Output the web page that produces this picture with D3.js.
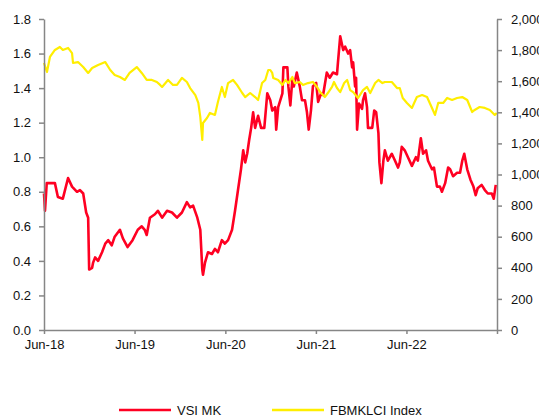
<!DOCTYPE html>
<html lang="en">
<head>
<meta charset="UTF-8">
<title>VSI MK vs FBMKLCI</title>
<style>
  body { margin: 0; background: #fff; }
  svg { display: block; font-family: "Liberation Sans", Arial, sans-serif; }
</style>
</head>
<body>
<div id="chart"></div>
<script src="https://cdn.jsdelivr.net/npm/d3@7"></script>
<script>
const width = 539, height = 416;

// VSI MK share price (RM), left axis
const vsiDates = ["2018-06-01","2018-06-05","2018-06-12","2018-06-25","2018-07-15","2018-07-27","2018-08-16","2018-09-06","2018-09-22","2018-10-12","2018-10-24","2018-11-06","2018-11-18","2018-11-26","2018-11-30","2018-12-12","2018-12-16","2018-12-24",
  "2019-01-05","2019-01-21","2019-02-03","2019-02-15","2019-03-01","2019-03-13","2019-04-03","2019-04-15","2019-05-04","2019-05-24","2019-06-14","2019-06-30","2019-07-12","2019-07-20","2019-08-02","2019-08-22","2019-09-03","2019-09-20","2019-10-10","2019-10-30","2019-11-19","2019-12-09","2019-12-29",
  "2020-01-11","2020-01-23","2020-02-09","2020-02-21","2020-02-29","2020-03-03","2020-03-11","2020-03-23","2020-04-08","2020-04-20","2020-05-02","2020-05-18","2020-05-30","2020-06-12","2020-06-28","2020-07-10","2020-07-22","2020-08-03","2020-08-12","2020-08-20","2020-08-28","2020-09-05","2020-09-13","2020-09-21","2020-09-29","2020-10-11","2020-10-23","2020-11-05","2020-11-17","2020-11-29","2020-12-07","2020-12-19","2020-12-23","2020-12-31",
  "2021-01-17","2021-01-21","2021-02-06","2021-02-10","2021-02-18","2021-02-26","2021-03-04","2021-03-16","2021-03-28","2021-04-06","2021-04-18","2021-04-26","2021-05-03","2021-05-12","2021-05-20","2021-06-02","2021-06-10","2021-06-22","2021-06-30","2021-07-15","2021-07-27","2021-08-09","2021-08-25","2021-08-29","2021-09-07","2021-09-19","2021-09-27","2021-10-09","2021-10-17","2021-10-25","2021-10-29","2021-11-06","2021-11-10","2021-11-14","2021-11-22","2021-12-04","2021-12-08","2021-12-16","2021-12-24","2021-12-28",
  "2022-01-14","2022-01-22","2022-01-30","2022-02-08","2022-02-12","2022-02-20","2022-02-28","2022-03-06","2022-03-18","2022-04-03","2022-04-16","2022-04-28","2022-05-05","2022-05-13","2022-05-25","2022-06-07","2022-06-23","2022-07-09","2022-07-17","2022-07-29","2022-08-07","2022-08-19","2022-08-27","2022-09-12","2022-09-20","2022-10-02","2022-10-14","2022-10-22","2022-11-04","2022-11-16","2022-11-24","2022-12-06","2022-12-22",
  "2023-01-03","2023-01-12","2023-01-20","2023-02-01","2023-02-14","2023-02-26","2023-03-07","2023-03-15","2023-03-31","2023-04-13","2023-04-25","2023-05-11","2023-05-19","2023-05-27"];
const vsiValues = [0.79,0.69,0.85,0.85,0.85,0.77,0.76,0.88,0.83,0.80,0.81,0.79,0.68,0.65,0.35,0.36,0.39,0.42,
  0.40,0.45,0.50,0.52,0.49,0.54,0.58,0.53,0.48,0.52,0.58,0.60,0.58,0.55,0.65,0.67,0.69,0.65,0.69,0.68,0.65,0.68,0.74,
  0.71,0.72,0.65,0.58,0.35,0.32,0.39,0.45,0.44,0.47,0.45,0.52,0.50,0.52,0.58,0.69,0.81,0.93,1.04,0.97,1.02,1.10,1.17,1.26,1.17,1.24,1.17,1.17,1.37,1.33,1.27,1.29,1.16,1.29,
  1.37,1.52,1.52,1.41,1.30,1.45,1.41,1.49,1.41,1.33,1.33,1.26,1.16,1.27,1.41,1.43,1.32,1.37,1.36,1.49,1.46,1.49,1.48,1.55,1.70,1.62,1.64,1.60,1.62,1.52,1.55,1.41,1.46,1.16,1.31,1.28,1.33,1.37,1.29,1.17,
  1.17,1.27,1.26,1.14,0.97,0.85,0.98,1.04,0.98,1.02,0.98,0.94,0.97,1.06,1.04,1.00,0.95,1.00,0.98,1.11,1.02,1.04,0.98,0.93,0.94,0.83,0.83,0.80,0.85,0.94,0.93,0.89,0.91,
  0.91,0.98,1.02,0.93,0.87,0.83,0.78,0.82,0.84,0.81,0.79,0.79,0.76,0.84];

// FBMKLCI Index, right axis
const klciDates = ["2018-06-01","2018-06-13","2018-06-25","2018-07-15","2018-08-04","2018-08-16","2018-09-06","2018-09-22","2018-09-26","2018-10-16","2018-11-06","2018-11-26","2018-12-12",
  "2019-01-05","2019-02-03","2019-02-23","2019-03-13","2019-04-03","2019-04-23","2019-05-12","2019-06-10","2019-06-30","2019-07-20","2019-08-10","2019-08-30","2019-09-12","2019-09-20","2019-10-14","2019-11-03","2019-11-19","2019-12-09","2019-12-29",
  "2020-01-11","2020-02-01","2020-02-13","2020-02-21","2020-02-29","2020-03-03","2020-03-19","2020-03-31","2020-04-20","2020-05-02","2020-05-18","2020-05-30","2020-06-12","2020-07-02","2020-07-18","2020-08-08","2020-08-20","2020-09-09","2020-09-29","2020-10-11","2020-10-27","2020-11-09","2020-11-21","2020-11-29","2020-12-07","2020-12-11","2020-12-31",
  "2021-01-17","2021-01-29","2021-02-10","2021-02-26","2021-03-08","2021-03-28","2021-04-10","2021-04-30","2021-05-20","2021-06-06","2021-06-18","2021-07-07","2021-07-19","2021-08-05","2021-08-13","2021-08-25","2021-09-07","2021-09-23","2021-10-05","2021-10-17","2021-10-29","2021-11-18","2021-12-08","2021-12-24",
  "2022-01-06","2022-01-26","2022-02-08","2022-02-24","2022-03-06","2022-04-03","2022-04-24","2022-05-05","2022-05-17","2022-06-03","2022-06-23","2022-07-13","2022-08-03","2022-08-23","2022-09-12","2022-09-24","2022-10-07","2022-10-27","2022-11-12","2022-12-02","2022-12-22",
  "2023-01-12","2023-02-01","2023-02-21","2023-03-03","2023-03-23","2023-04-13","2023-05-03","2023-05-23","2023-05-31"];
const klciValues = [1717,1659,1756,1801,1820,1801,1814,1781,1717,1723,1691,1653,1685,
  1704,1723,1672,1640,1627,1608,1653,1691,1653,1608,1608,1595,1576,1563,1608,1576,1576,1621,1595,
  1556,1511,1460,1370,1222,1331,1363,1396,1383,1466,1563,1498,1588,1608,1576,1524,1498,1524,1498,1479,1588,1608,1672,1672,1653,1621,1608,
  1576,1608,1588,1627,1588,1595,1576,1588,1595,1563,1530,1498,1524,1563,1595,1556,1530,1588,1608,1543,1530,1492,1543,1563,
  1524,1588,1608,1588,1595,1595,1556,1556,1492,1460,1428,1498,1511,1498,1428,1383,1460,1460,1492,1479,1492,
  1498,1479,1402,1415,1434,1428,1415,1383,1396];

// the last tick (Jun-23) is drawn without a label, as in the source
const xTicks = ["2018-06-01","2019-06-01","2020-06-01","2021-06-01","2022-06-01","2023-06-01"];
const xTickLabels = ["Jun-18","Jun-19","Jun-20","Jun-21","Jun-22",""];
const leftTicks = [0, 0.2, 0.4, 0.6, 0.8, 1.0, 1.2, 1.4, 1.6, 1.8];
const rightTicks = [0, 200, 400, 600, 800, 1000, 1200, 1400, 1600, 1800, 2000];
const seriesNames = ["VSI MK", "FBMKLCI Index"];

const parse = d3.timeParse("%Y-%m-%d");
const vsi = vsiDates.map((d, i) => ({date: parse(d), value: vsiValues[i]}));
const klci = klciDates.map((d, i) => ({date: parse(d), value: klciValues[i]}));

const plotLeft = 44, plotRight = 497, plotTop = 19, plotBottom = 330;
const axisColor = "#868686";

const x = d3.scaleTime()
    .domain([parse(xTicks[0]), parse(xTicks[xTicks.length - 1])])
    .range([plotLeft, plotRight]);
const yL = d3.scaleLinear().domain([0, 1.8]).range([plotBottom, plotTop]);
const yR = d3.scaleLinear().domain([0, 2000]).range([plotBottom, plotTop]);

const svg = d3.select("#chart").append("svg")
    .attr("width", width)
    .attr("height", height);

// lines (yellow drawn over red, as in the original)
svg.append("path")
    .datum(vsi)
    .attr("fill", "none")
    .attr("stroke", "#ff0022")
    .attr("stroke-width", 2.6)
    .attr("stroke-linejoin", "round")
    .attr("d", d3.line().x(d => x(d.date)).y(d => yL(d.value)));

svg.append("path")
    .datum(klci)
    .attr("fill", "none")
    .attr("stroke", "#ffee00")
    .attr("stroke-width", 2.2)
    .attr("stroke-linejoin", "round")
    .attr("d", d3.line().x(d => x(d.date)).y(d => yR(d.value)));

// axes
function styleAxis(g) {
    g.select(".domain").attr("stroke", axisColor).attr("stroke-width", 1.5);
    g.selectAll(".tick line").attr("stroke", axisColor).attr("stroke-width", 1.5);
    g.selectAll(".tick text").attr("fill", "#111").style("font-size", "13px");
}

svg.append("g")
    .attr("transform", `translate(0,${plotBottom})`)
    .call(d3.axisBottom(x)
        .tickValues(xTicks.map(parse))
        .tickFormat((d, i) => xTickLabels[i])
        .tickSize(4).tickSizeOuter(0).tickPadding(6))
    .call(styleAxis);

svg.append("g")
    .attr("transform", `translate(${plotLeft},0)`)
    .call(d3.axisLeft(yL)
        .tickValues(leftTicks)
        .tickFormat(d3.format(".1f"))
        .tickSize(5).tickSizeOuter(0).tickPadding(8))
    .call(styleAxis);

svg.append("g")
    .attr("transform", `translate(${plotRight},0)`)
    .call(d3.axisRight(yR)
        .tickValues(rightTicks)
        .tickFormat(d3.format(","))
        .tickSize(5).tickSizeOuter(0).tickPadding(9))
    .call(styleAxis);

// legend
const legend = svg.append("g").attr("transform", "translate(0,410)");
const legendX = [119, 272];
const legendColors = ["#ff0022", "#ffee00"];
seriesNames.forEach((name, i) => {
    legend.append("line")
        .attr("x1", legendX[i]).attr("x2", legendX[i] + 52)
        .attr("y1", 0).attr("y2", 0)
        .attr("stroke", legendColors[i])
        .attr("stroke-width", 2.5);
    legend.append("text")
        .attr("x", legendX[i] + 58)
        .attr("y", 5)
        .attr("fill", "#111")
        .style("font-size", "13px")
        .text(name);
});
</script>
</body>
</html>
